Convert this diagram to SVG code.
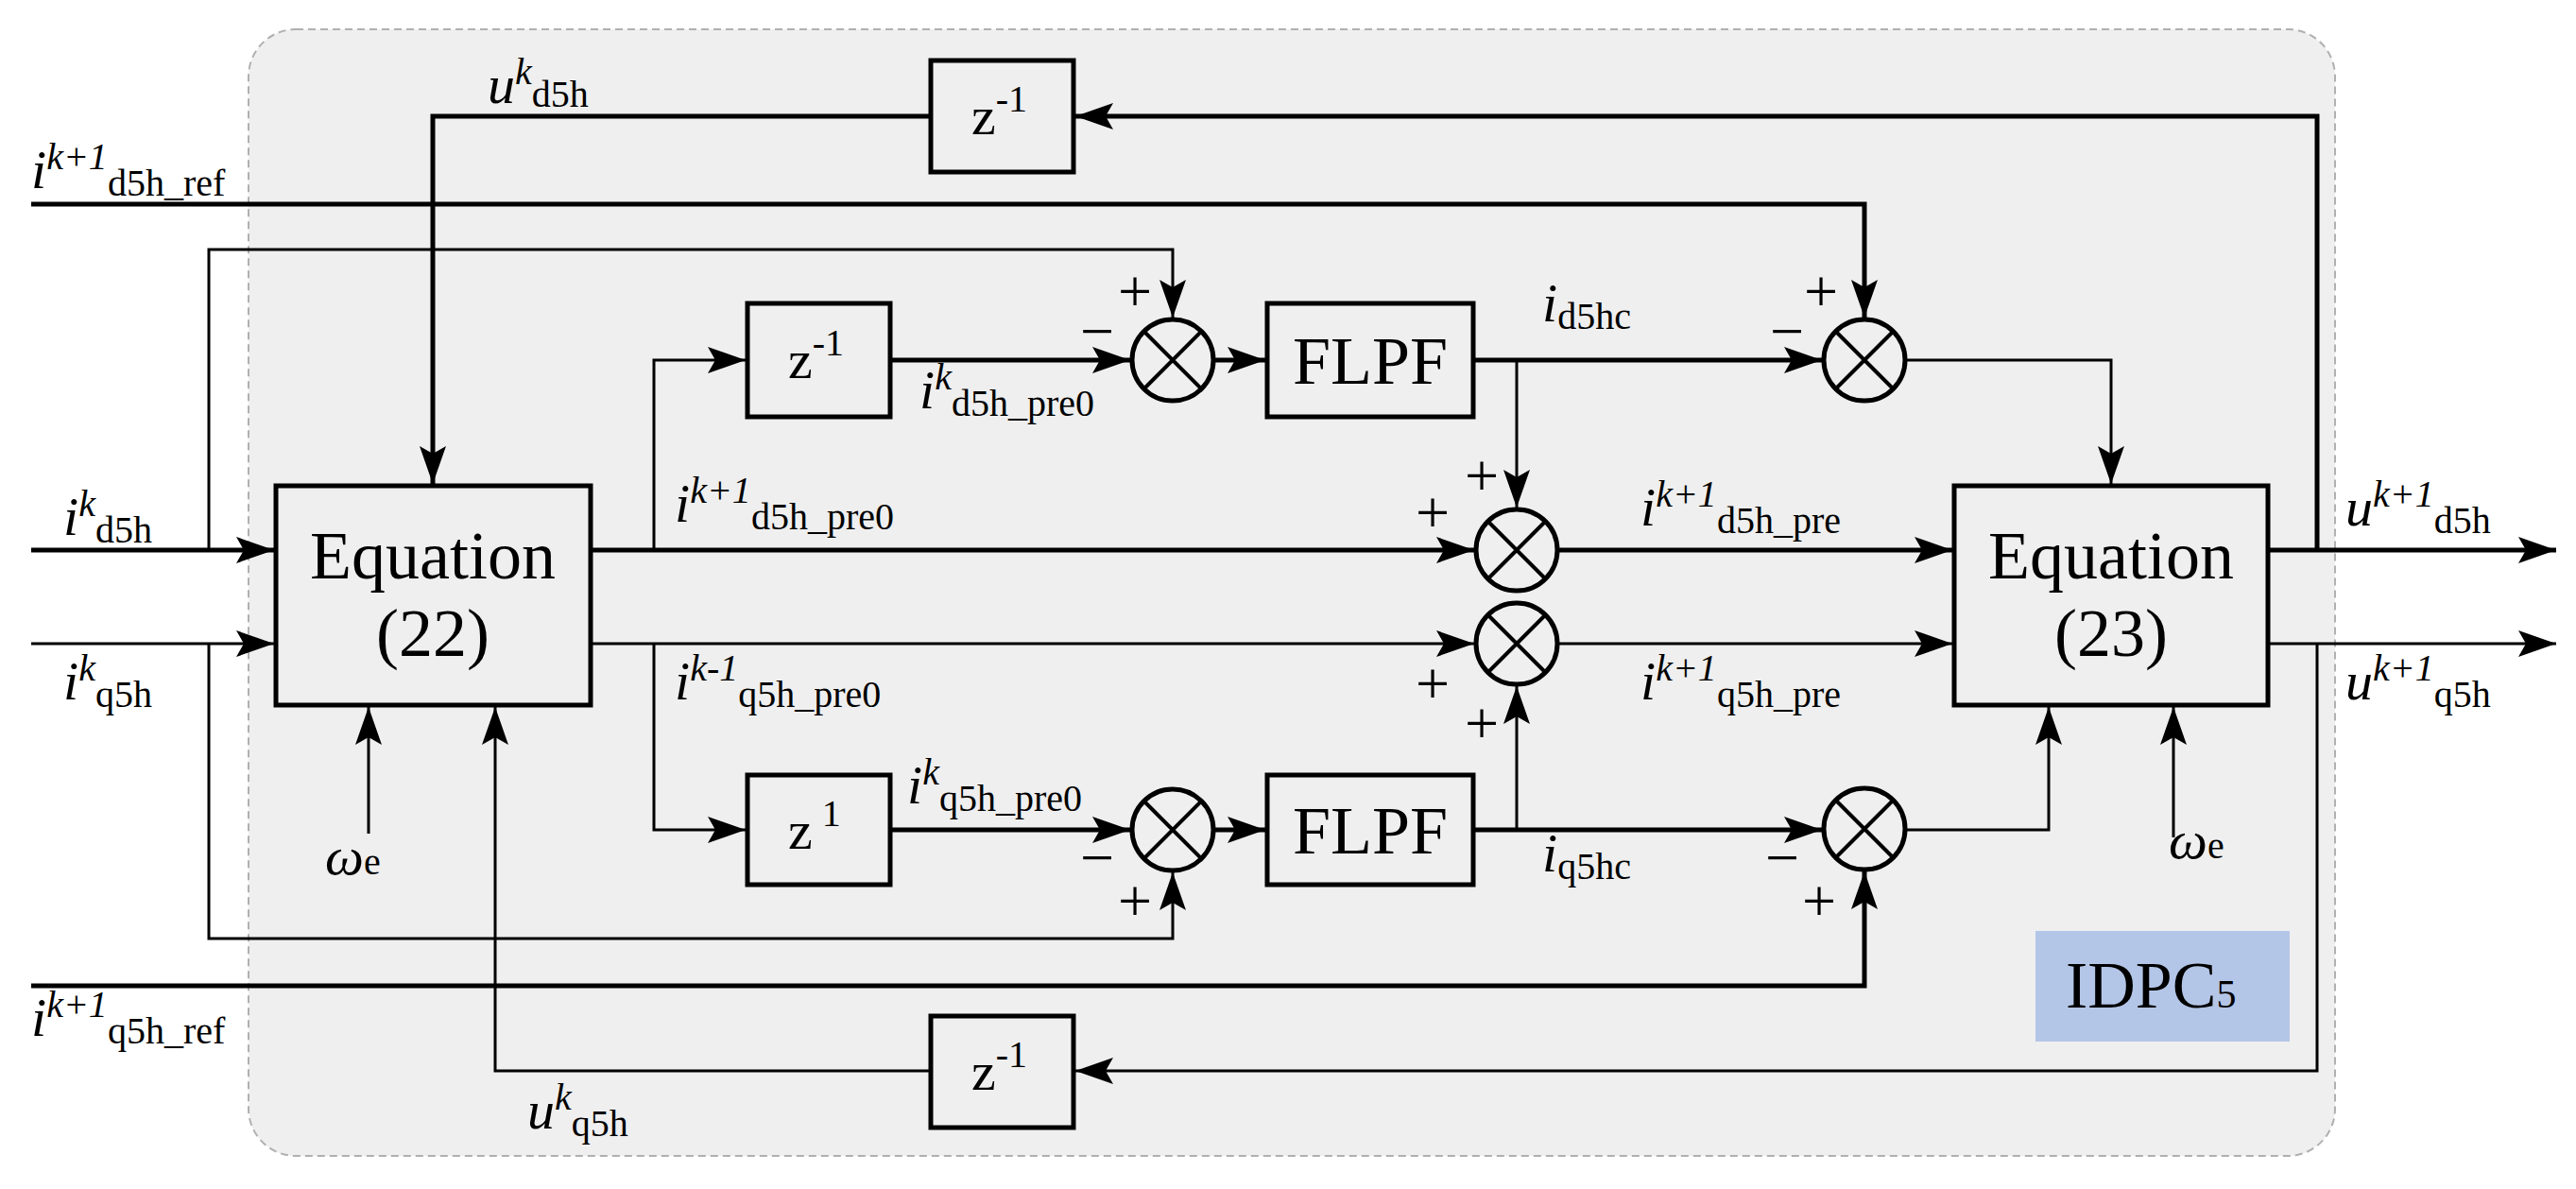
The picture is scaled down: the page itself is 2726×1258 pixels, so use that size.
<svg xmlns="http://www.w3.org/2000/svg" width="2726" height="1258" viewBox="0 0 2726 1258" font-family="'Liberation Serif', 'DejaVu Serif', serif">
<style>
.bg{fill:#efefef;stroke:#b0b0b0;stroke-width:2;stroke-dasharray:8 5}
.blk{fill:none;stroke:#000;stroke-width:5}
.w{fill:none;stroke:#000;stroke-width:5}
.t{fill:none;stroke:#000;stroke-width:3}
.a{marker-end:url(#ah)}
text{font-family:'Liberation Serif','DejaVu Serif',serif;fill:#000}
.lb{font-size:58px}
.sub{font-size:40px;font-style:normal}
.sup{font-size:40px;font-style:italic}
.big{font-size:72px}
.pm{font-size:64px;font-family:'Liberation Sans',sans-serif}
</style>
<defs>
<marker id="ah" markerUnits="userSpaceOnUse" markerWidth="44" markerHeight="30" refX="40" refY="14" orient="auto">
<path d="M0,0 L40,14 L0,28 L8,14 Z" fill="#000"/>
</marker>
<g id="sum"><circle r="43" fill="none" stroke="#000" stroke-width="5"/><path d="M-30,-30 L30,30 M30,-30 L-30,30" stroke="#000" stroke-width="4"/></g>
</defs>
<rect class="bg" x="263" y="31" width="2208" height="1192" rx="50"/>
<g id="connectors">
<path class="w a" d="M2452,582 L2452,123 L1138,123"/>
<path class="w a" d="M985,123 L458,123 L458,512"/>
<path class="w a" d="M33,216 L1973,216 L1973,336"/>
<path class="t a" d="M221,582 L221,264 L1241,264 L1241,336"/>
<path class="w a" d="M33,582 L290,582"/>
<path class="t a" d="M33,681 L290,681"/>
<path class="t a" d="M692,582 L692,381 L789,381"/>
<path class="w a" d="M942,381 L1196,381"/>
<path class="w a" d="M1284,381 L1339,381"/>
<path class="w a" d="M1559,381 L1928,381"/>
<path class="t a" d="M1605,381 L1605,537"/>
<path class="t a" d="M2016,381 L2234,381 L2234,512"/>
<path class="w a" d="M625,582 L1560,582"/>
<path class="w a" d="M1648,582 L2066,582"/>
<path class="w a" d="M2400,582 L2705,582"/>
<path class="t a" d="M625,681 L1560,681"/>
<path class="t a" d="M1648,681 L2066,681"/>
<path class="t a" d="M2400,681 L2705,681"/>
<path class="t a" d="M692,681 L692,878 L789,878"/>
<path class="w a" d="M942,878 L1196,878"/>
<path class="w a" d="M1284,878 L1339,878"/>
<path class="w a" d="M1559,878 L1928,878"/>
<path class="t a" d="M1605,878 L1605,726"/>
<path class="t a" d="M2016,878 L2168,878 L2168,748"/>
<path class="t a" d="M2300,886 L2300,748"/>
<path class="t a" d="M390,882 L390,748"/>
<path class="t a" d="M221,681 L221,993 L1241,993 L1241,923"/>
<path class="w a" d="M33,1043 L1973,1043 L1973,922"/>
<path class="t a" d="M2452,681 L2452,1133 L1138,1133"/>
<path class="t a" d="M985,1133 L524,1133 L524,748"/>
</g>
<g id="eq22"><rect class="blk" x="292" y="514" width="333" height="232" fill="#efefef"/><text class="big" x="458" y="612" text-anchor="middle">Equation</text><text class="big" x="458" y="694" text-anchor="middle">(22)</text></g>
<g id="eq23"><rect class="blk" x="2068" y="514" width="332" height="232" fill="#efefef"/><text class="big" x="2234" y="612" text-anchor="middle">Equation</text><text class="big" x="2234" y="694" text-anchor="middle">(23)</text></g>
<g id="z_top"><rect class="blk" x="985" y="64" width="151" height="118" fill="#efefef"/><text class="lb" x="1028" y="142">z<tspan class="sub" dy="-24">-1</tspan></text></g>
<g id="z_d"><rect class="blk" x="791" y="321" width="151" height="120" fill="#efefef"/><text class="lb" x="834" y="400">z<tspan class="sub" dy="-24">-1</tspan></text></g>
<g id="z_q"><rect class="blk" x="791" y="820" width="151" height="116" fill="#efefef"/><text class="lb" x="834" y="898">z<tspan class="sub" dy="-24"> 1</tspan></text></g>
<g id="z_bot"><rect class="blk" x="985" y="1075" width="151" height="118" fill="#efefef"/><text class="lb" x="1028" y="1153">z<tspan class="sub" dy="-24">-1</tspan></text></g>
<g id="flpf_d"><rect class="blk" x="1341" y="321" width="218" height="120" fill="#efefef"/><text class="big" x="1450" y="406" text-anchor="middle">FLPF</text></g>
<g id="flpf_q"><rect class="blk" x="1341" y="820" width="218" height="116" fill="#efefef"/><text class="big" x="1450" y="903" text-anchor="middle">FLPF</text></g>
<g id="s1"><use href="#sum" x="1241" y="381"/></g>
<g id="s2"><use href="#sum" x="1973" y="381"/></g>
<g id="s3"><use href="#sum" x="1605" y="582"/></g>
<g id="s4"><use href="#sum" x="1605" y="681"/></g>
<g id="s5"><use href="#sum" x="1241" y="878"/></g>
<g id="s6"><use href="#sum" x="1973" y="877"/></g>
<g id="idpc"><rect x="2154" y="985" width="269" height="117" fill="#b4c6e7"/><text x="2186" y="1066" font-size="70">IDPC<tspan font-size="42">5</tspan></text></g>
<g id="signs" class="pm" text-anchor="middle">
<text x="1201" y="330">+</text><text x="1161" y="372">−</text>
<text x="1927" y="330">+</text><text x="1891" y="372">−</text>
<text x="1568" y="525">+</text><text x="1516" y="564">+</text>
<text x="1516" y="745">+</text><text x="1568" y="787">+</text>
<text x="1161" y="929">−</text><text x="1201" y="975">+</text>
<text x="1886" y="929">−</text><text x="1925" y="975">+</text>
</g>
<g id="labels" class="lb">
<text x="516" y="109"><tspan font-style="italic">u</tspan><tspan class="sup" dy="-20">k</tspan><tspan class="sub" dy="24">d5h</tspan></text>
<text x="33" y="199"><tspan font-style="italic">i</tspan><tspan class="sup" dy="-20">k+1</tspan><tspan class="sub" dy="28">d5h_ref</tspan></text>
<text x="67" y="566"><tspan font-style="italic">i</tspan><tspan class="sup" dy="-20">k</tspan><tspan class="sub" dy="28">d5h</tspan></text>
<text x="67" y="740"><tspan font-style="italic">i</tspan><tspan class="sup" dy="-20">k</tspan><tspan class="sub" dy="28">q5h</tspan></text>
<text x="973" y="432"><tspan font-style="italic">i</tspan><tspan class="sup" dy="-20">k</tspan><tspan class="sub" dy="28">d5h_pre0</tspan></text>
<text x="714" y="552"><tspan font-style="italic">i</tspan><tspan class="sup" dy="-20">k+1</tspan><tspan class="sub" dy="28">d5h_pre0</tspan></text>
<text x="714" y="740"><tspan font-style="italic">i</tspan><tspan class="sup" dy="-20">k-1</tspan><tspan class="sub" dy="28">q5h_pre0</tspan></text>
<text x="960" y="850"><tspan font-style="italic">i</tspan><tspan class="sup" dy="-20">k</tspan><tspan class="sub" dy="28">q5h_pre0</tspan></text>
<text x="1632" y="340"><tspan font-style="italic">i</tspan><tspan class="sub" dy="8">d5hc</tspan></text>
<text x="1632" y="922"><tspan font-style="italic">i</tspan><tspan class="sub" dy="8">q5hc</tspan></text>
<text x="1736" y="556"><tspan font-style="italic">i</tspan><tspan class="sup" dy="-20">k+1</tspan><tspan class="sub" dy="28">d5h_pre</tspan></text>
<text x="1736" y="740"><tspan font-style="italic">i</tspan><tspan class="sup" dy="-20">k+1</tspan><tspan class="sub" dy="28">q5h_pre</tspan></text>
<text x="2482" y="556"><tspan font-style="italic">u</tspan><tspan class="sup" dy="-20">k+1</tspan><tspan class="sub" dy="28">d5h</tspan></text>
<text x="2482" y="740"><tspan font-style="italic">u</tspan><tspan class="sup" dy="-20">k+1</tspan><tspan class="sub" dy="28">q5h</tspan></text>
<text x="33" y="1096"><tspan font-style="italic">i</tspan><tspan class="sup" dy="-20">k+1</tspan><tspan class="sub" dy="28">q5h_ref</tspan></text>
<text x="558" y="1194"><tspan font-style="italic">u</tspan><tspan class="sup" dy="-20">k</tspan><tspan class="sub" dy="28">q5h</tspan></text>
<text x="344" y="925"><tspan font-style="italic">ω</tspan><tspan class="sub">e</tspan></text>
<text x="2295" y="908"><tspan font-style="italic">ω</tspan><tspan class="sub">e</tspan></text>
</g>
</svg>
